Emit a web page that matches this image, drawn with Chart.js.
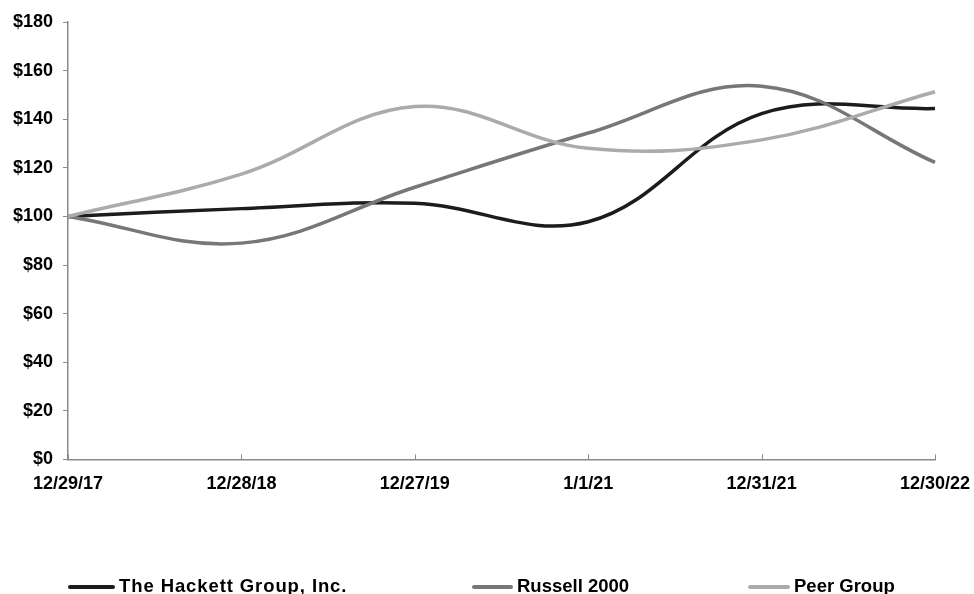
<!DOCTYPE html>
<html>
<head>
<meta charset="utf-8">
<script src="https://cdn.jsdelivr.net/npm/chart.js@4/dist/chart.umd.min.js"></script>
<style>
  html, body { margin: 0; padding: 0; background: #fff; }
  #wrap { position: relative; width: 974px; height: 594px; overflow: hidden; }
  #chart { position: absolute; left: 0; top: 0; }
  .leg { position: absolute; top: 576px; height: 20px; font: bold 18.5px "Liberation Sans", Arial, sans-serif; line-height: 20px; color: #000; white-space: nowrap; }
  .leg i { position: absolute; top: 9px; height: 4px; border-radius: 2px; }
</style>
</head>
<body>
<div id="wrap">
  <canvas id="chart" width="974" height="594"></canvas>
</div>
<script>
// dates of the fiscal year ends
const periods = ['12/29/17', '12/28/18', '12/27/19', '1/1/21', '12/31/21', '12/30/22'];

// cumulative value of $100 invested
const hackett = [100, 103.2, 105.4, 97.8, 142.3, 144.4];
const russell = [100, 89.0, 112.0, 134.3, 153.6, 122.2];
const peers = [100, 117.4, 145.2, 128.0, 131.5, 151.3];

const seriesNames = ['The Hackett Group, Inc.', 'Russell 2000', 'Peer Group'];
const seriesColors = ['#1c1c1c', '#777777', '#ababab'];

const yTicks = [0, 20, 40, 60, 80, 100, 120, 140, 160, 180];

const FONT = '"Liberation Sans", Arial, sans-serif';

// small inward tick marks on the x axis, like the original
const xTickMarks = {
  id: 'xTickMarks',
  afterDatasetsDraw(chart) {
    const x = chart.scales.x;
    const ctx = chart.ctx;
    ctx.save();
    ctx.strokeStyle = '#8a8a8a';
    ctx.lineWidth = 1;
    x.ticks.forEach((t, i) => {
      const px = Math.round(x.getPixelForTick(i)) + 0.5;
      ctx.beginPath();
      ctx.moveTo(px, chart.chartArea.bottom);
      ctx.lineTo(px, chart.chartArea.bottom - 5);
      ctx.stroke();
    });
    ctx.restore();
  }
};

const values = [hackett, russell, peers];
const datasets = values.map((d, i) => ({
  label: seriesNames[i],
  data: d,
  borderColor: seriesColors[i],
  backgroundColor: seriesColors[i],
  borderWidth: 3.5,
  pointRadius: 0,
  tension: 0.38,
  fill: false,
  clip: false
}));
// draw the black series on top
datasets.reverse();

new Chart(document.getElementById('chart'), {
  type: 'line',
  data: { labels: periods, datasets: datasets },
  options: {
    responsive: false,
    animation: false,
    events: [],
    layout: { padding: { left: 3, right: 39, top: 22, bottom: 99 } },
    plugins: {
      legend: { display: false },
      tooltip: { enabled: false }
    },
    scales: {
      x: {
        offset: false,
        // invisible ticks give the gap under the axis without widening the right edge
        grid: { display: true, drawOnChartArea: false, drawTicks: true, tickLength: 14, color: 'rgba(0,0,0,0)' },
        border: { color: '#8a8a8a', width: 1.5 },
        ticks: {
          padding: 0,
          maxRotation: 0,
          autoSkip: false,
          color: '#000',
          font: { family: FONT, size: 18, weight: 'bold' }
        }
      },
      y: {
        min: 0,
        max: 180,
        afterBuildTicks(scale) {
          scale.ticks = yTicks.map(v => ({ value: v }));
        },
        grid: { drawOnChartArea: false, drawTicks: true, tickLength: 5, color: '#8a8a8a' },
        border: { color: '#8a8a8a', width: 1.5 },
        ticks: {
          padding: 10,
          color: '#000',
          font: { family: FONT, size: 18, weight: 'bold' },
          callback: v => '$' + v
        }
      }
    }
  },
  plugins: [xTickMarks]
});

// legend row at the bottom
const legendPos = [[68, 47, 0.9], [472, 41, 0], [748, 42, 0]];
const wrap = document.getElementById('wrap');
seriesNames.forEach((name, i) => {
  const div = document.createElement('div');
  div.className = 'leg';
  div.style.left = legendPos[i][0] + 'px';
  div.style.paddingLeft = (legendPos[i][1] + 4) + 'px';
  div.style.letterSpacing = legendPos[i][2] + 'px';
  const sw = document.createElement('i');
  sw.style.left = '0px';
  sw.style.width = legendPos[i][1] + 'px';
  sw.style.background = seriesColors[i];
  div.appendChild(sw);
  div.appendChild(document.createTextNode(name));
  wrap.appendChild(div);
});
</script>
</body>
</html>
